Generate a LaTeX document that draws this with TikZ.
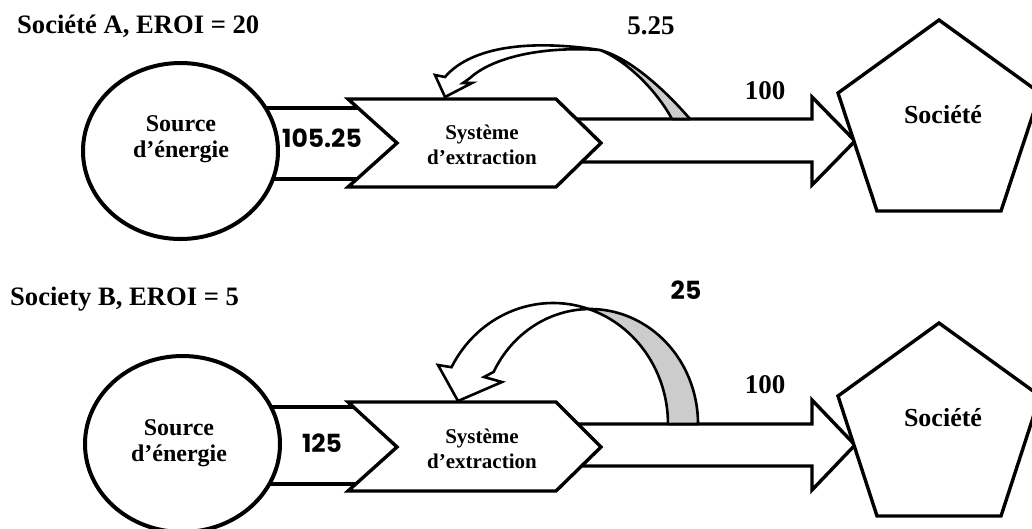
\documentclass[tikz,border=0pt]{standalone}
\usepackage{fontspec}
\setmainfont{Liberation Serif}
\newfontfamily\numfont{Poppins}
\usetikzlibrary{shapes.geometric}
\begin{document}
\begin{tikzpicture}[x=1pt,y=-1pt,
  shapeline/.style={draw=black, line width=3.4pt, fill=white, line join=miter},
  srcshape/.style={ellipse, draw=black, line width=4pt, fill=white, minimum width=195pt, minimum height=176pt, inner sep=0pt},
  bandline/.style={draw=black, line width=3.4pt},
  band/.style={draw=black, line width=3.4pt, fill=white, line join=miter},
  fbshade/.style={draw=black, line width=2.6pt, fill=gray!40, line join=round},
  fbbody/.style={draw=black, line width=2.6pt, fill=white, line join=miter},
  titletext/.style={font=\fontsize{26.6}{30}\selectfont\bfseries, anchor=base west, inner sep=0pt},
  srclabel/.style={font=\fontsize{24}{26}\selectfont\bfseries, align=center, inner sep=0pt},
  extlabel/.style={font=\fontsize{21}{25}\selectfont\bfseries, align=center, inner sep=0pt},
  soclabel/.style={font=\fontsize{26}{30}\selectfont\bfseries, inner sep=0pt},
  flowlabel/.style={font=\fontsize{27}{30}\selectfont\bfseries, inner sep=0pt},
  inlabel/.style={font=\numfont\fontsize{25}{28}\selectfont\bfseries, inner sep=0pt}
]
\clip (0,0) rectangle (1032,528);
\fill[white] (0,0) rectangle (1032,528);

% ================= Society A =================
\node[titletext] (titleA) at (17,33) {Société A, EROI = 20};

% input band
\fill[white] (200,108) rectangle (397,179);
\draw[bandline] (200,108) -- (397,108);
\draw[bandline] (200,179) -- (397,179);
% output band arrow
\draw[band] (570,119) -- (812,119) -- (812,97) -- (855,141) -- (812,185) -- (812,162) -- (570,162);

\node[srcshape] (srcA) at (180.5,151) {};
\draw[shapeline] (348,99) coordinate (extA) -- (556,99) -- (601,143) -- (556,187) -- (348,187) -- (397,143) -- cycle;
\draw[shapeline] (939,20) coordinate (socA) -- (1040,93) -- (1001,211) -- (877,211) -- (838,93) -- cycle;

% feedback arrow A
\draw[fbshade] (600,50) .. controls (625,60) and (655,88) .. (672,119) -- (690,119) .. controls (665,90) and (630,58) .. (600,50) -- cycle;
\draw[fbbody] (435,75) -- (445,77) .. controls (468,50) and (520,38) .. (600,50) .. controls (540,46) and (492,58) .. (470,78) -- (463,83) -- (472,83) -- (445,97) -- cycle;

\node[srclabel] (srcAtext) at (181,139) {Source\\d’énergie};
\node[extlabel] (extAtext) at (482,144.5) {Système\\d’extraction};
\node[soclabel] (socAtext) at (943,115) {Société};
\node[inlabel] (inA) at (322,138) {105.25};
\node[flowlabel] (outA) at (765,91) {100};
\node[flowlabel] (fbA) at (651,26) {5.25};

% ================= Society B =================
\node[titletext] (titleB) at (10,305) {Society B, EROI = 5};

\fill[white] (200,407) rectangle (397,484);
\draw[bandline] (200,407) -- (397,407);
\draw[bandline] (200,484) -- (397,484);
\draw[band] (570,424) -- (812,424) -- (812,400) -- (855,445) -- (812,490) -- (812,466) -- (570,466);

\node[srcshape] (srcB) at (182.5,444) {};
\draw[shapeline] (348,402) coordinate (extB) -- (556,402) -- (601,447) -- (556,491) -- (348,491) -- (397,447) -- cycle;
\draw[shapeline] (939,323) coordinate (socB) -- (1040,396) -- (1001,516) -- (877,516) -- (838,396) -- cycle;

% feedback arrow B
\draw[fbshade] (588.9,309.1) arc[start angle=-71.8, end angle=0, x radius=115, y radius=121] -- (698,424) arc[start angle=0, end angle=-90.5, x radius=108, y radius=115] -- cycle;
\draw[fbbody] (438,365) -- (451.5,367.2) arc[start angle=-152, end angle=-71.8, x radius=115, y radius=121] arc[start angle=-90.5, end angle=-153, x radius=108, y radius=115] -- (484,377) -- (502,382) -- (458,401) -- cycle;

\node[srclabel] (srcBtext) at (179,443) {Source\\d’énergie};
\node[extlabel] (extBtext) at (482,449) {Système\\d’extraction};
\node[soclabel] (socBtext) at (943,418) {Société};
\node[inlabel] (inB) at (322,443) {125};
\node[flowlabel] (outB) at (765,385) {100};
\node[inlabel] (fbB) at (686,290) {25};
\end{tikzpicture}
\end{document}
